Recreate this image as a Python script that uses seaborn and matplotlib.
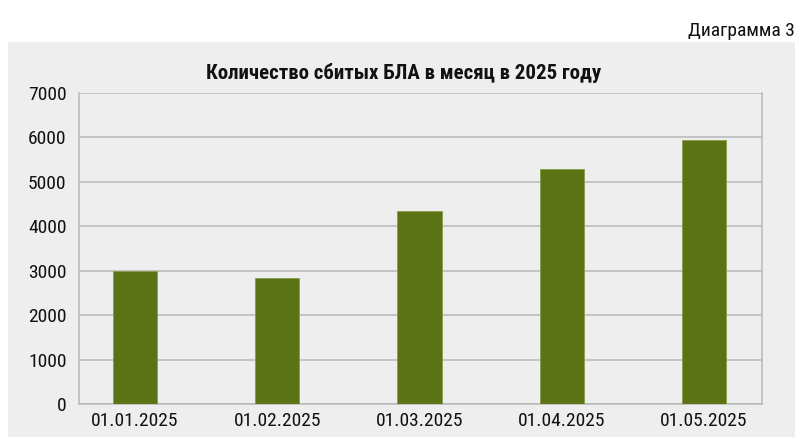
import matplotlib
matplotlib.use("Agg")
import matplotlib.pyplot as plt
import seaborn as sns
import pandas as pd

# data
dates = ['01.01.2025', '01.02.2025', '01.03.2025', '01.04.2025', '01.05.2025']
counts = [3000, 2840, 4340, 5300, 5935]
y_ticks = [0, 1000, 2000, 3000, 4000, 5000, 6000, 7000]

title = 'Количество сбитых БЛА в месяц в 2025 году'
caption = 'Диаграмма 3'

sns.set_style('white')
plt.rcParams['font.family'] = ['Roboto Condensed', 'Roboto', 'DejaVu Sans']

df = pd.DataFrame({'date': dates, 'count': counts})

fig = plt.figure(figsize=(8, 4.46), dpi=100)
fig.patch.set_facecolor('white')

# gray panel behind the chart
bg = fig.add_axes([8 / 800, 9 / 446, 787 / 800, 395 / 446], zorder=-1)
bg.set_facecolor('#EEEEEE')
bg.set_xticks([])
bg.set_yticks([])
for s in bg.spines.values():
    s.set_visible(False)

ax = fig.add_axes([79 / 800, 42 / 446, 683 / 800, 311 / 446])
ax.set_facecolor('#EEEEEE')

sns.barplot(data=df, x='date', y='count', color='#5B7314', width=0.31,
            edgecolor='#86A046', linewidth=0.6, saturation=1, ax=ax, zorder=3)

ax.set_xlim(-0.394, 4.408)
ax.set_ylim(0, 7000)
ax.set_yticks(y_ticks)
ax.yaxis.grid(True, color='#B8B8B8', linewidth=1.1)
ax.set_axisbelow(True)
ax.set_xlabel('')
ax.set_ylabel('')

for side in ['left', 'bottom', 'right']:
    ax.spines[side].set_color('#B8B8B8')
    ax.spines[side].set_linewidth(1.1)
ax.spines['top'].set_visible(False)

ax.tick_params(axis='y', length=3, color='#B8B8B8', labelsize=14, pad=6, labelcolor='#111111')
ax.tick_params(axis='x', length=0, labelsize=14, pad=6, labelcolor='#111111')

fig.text(0.504, 1 - 73 / 446, title, ha='center', va='center', fontsize=15,
         fontweight='bold', color='#111111')
fig.text(795 / 800, 1 - 31 / 446, caption, ha='right', va='center', fontsize=14,
         color='#111111')

fig.savefig('out.png', dpi=100)
